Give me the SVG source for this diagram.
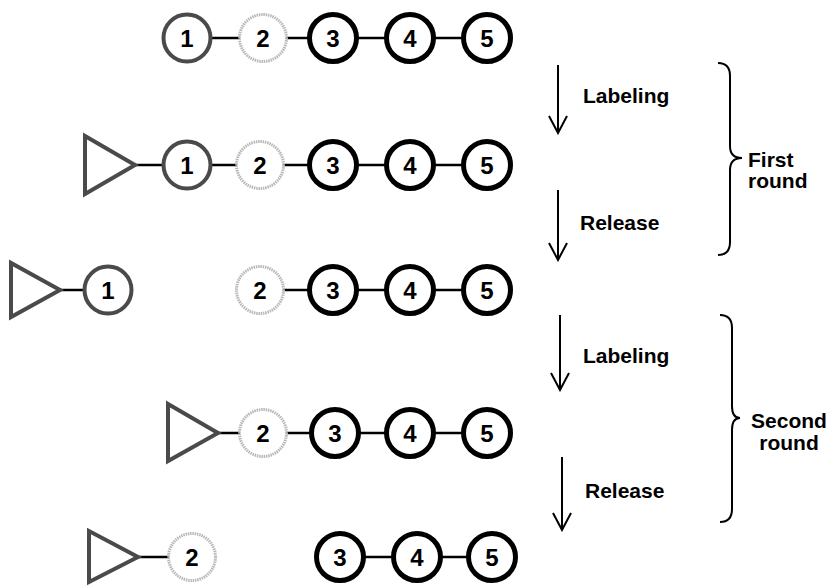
<svg xmlns="http://www.w3.org/2000/svg" width="833" height="586" viewBox="0 0 833 586">
<style>
  .bg{fill:#fff}
  .c1{fill:#fff;stroke:#4a4a4a;stroke-width:4}
  .c2{fill:#fff;stroke:#b8b8b8;stroke-width:3;stroke-dasharray:1.5 0.8}
  .c3{fill:#fff;stroke:#000;stroke-width:5}
  .tri{fill:none;stroke:#4a4a4a;stroke-width:4;stroke-linejoin:miter}
  .num{font-family:"Liberation Sans",Arial,sans-serif;font-weight:bold;font-size:24px;text-anchor:middle;fill:#000}
  .lbl{font-family:"Liberation Sans",Arial,sans-serif;font-weight:bold;font-size:21px;fill:#000}
  .lnk{stroke:#000;stroke-width:2.5;fill:none}
  .arr{stroke:#000;stroke-width:2;fill:none}
  .brace{stroke:#000;stroke-width:2;fill:none}
</style>
<defs>
  <marker id="vhead" markerUnits="userSpaceOnUse" markerWidth="20" markerHeight="20" refX="18" refY="10" orient="auto" viewBox="0 0 20 20">
    <polyline points="1,1 18,10 1,19" fill="none" stroke="#000" stroke-width="2"/>
  </marker>
</defs>
<rect class="bg" x="0" y="0" width="833" height="586"/>

<g id="connectors">
  <!-- row 1 -->
  <line class="lnk" x1="211" y1="38" x2="240" y2="38"/>
  <line class="lnk" x1="286" y1="38" x2="310" y2="38"/>
  <line class="lnk" x1="357" y1="38" x2="386" y2="38"/>
  <line class="lnk" x1="434" y1="38" x2="463" y2="38"/>
  <!-- row 2 -->
  <line class="lnk" x1="135" y1="165" x2="164" y2="165"/>
  <line class="lnk" x1="210" y1="165" x2="237" y2="165"/>
  <line class="lnk" x1="283" y1="165" x2="310" y2="165"/>
  <line class="lnk" x1="357" y1="165" x2="386" y2="165"/>
  <line class="lnk" x1="434" y1="165" x2="463" y2="165"/>
  <!-- row 3 -->
  <line class="lnk" x1="60" y1="290" x2="85" y2="290"/>
  <line class="lnk" x1="283" y1="290" x2="310" y2="290"/>
  <line class="lnk" x1="357" y1="290" x2="386" y2="290"/>
  <line class="lnk" x1="434" y1="290" x2="463" y2="290"/>
  <!-- row 4 -->
  <line class="lnk" x1="218" y1="433" x2="240" y2="433"/>
  <line class="lnk" x1="286" y1="433" x2="311" y2="433"/>
  <line class="lnk" x1="359" y1="433" x2="386" y2="433"/>
  <line class="lnk" x1="434" y1="433" x2="463" y2="433"/>
  <!-- row 5 -->
  <line class="lnk" x1="138" y1="557" x2="169" y2="557"/>
  <line class="lnk" x1="364" y1="557" x2="393" y2="557"/>
  <line class="lnk" x1="441" y1="557" x2="468" y2="557"/>
  <!-- process arrows -->
  <line class="arr" x1="558" y1="65" x2="558" y2="133" marker-end="url(#vhead)"/>
  <line class="arr" x1="558" y1="190" x2="558" y2="260" marker-end="url(#vhead)"/>
  <line class="arr" x1="560" y1="315" x2="560" y2="390" marker-end="url(#vhead)"/>
  <line class="arr" x1="562" y1="457" x2="562" y2="530" marker-end="url(#vhead)"/>
  <!-- braces -->
  <path class="brace" d="M718,63 Q730,63 730,76 L730,146 Q730,158 742,158 Q730,158 730,170 L730,242 Q730,255 718,255"/>
  <path class="brace" d="M720,315 Q732,315 732,328 L732,406 Q732,418 740,418 Q732,418 732,430 L732,509 Q732,522 720,522"/>
</g>

<!-- Row 1 -->
<g id="r1-n1"><circle class="c1" cx="187" cy="38" r="23.5"/><text class="num" x="187" y="47">1</text></g>
<g id="r1-n2"><circle class="c2" cx="263" cy="38" r="23.5"/><text class="num" x="263" y="47">2</text></g>
<g id="r1-n3"><circle class="c3" cx="333" cy="38" r="23.5"/><text class="num" x="333" y="47">3</text></g>
<g id="r1-n4"><circle class="c3" cx="410" cy="38" r="23.5"/><text class="num" x="410" y="47">4</text></g>
<g id="r1-n5"><circle class="c3" cx="487" cy="38" r="23.5"/><text class="num" x="487" y="47">5</text></g>

<!-- Row 2 -->
<g id="r2-tri"><polygon class="tri" points="85,136 85,194 135,165"/></g>
<g id="r2-n1"><circle class="c1" cx="187" cy="165" r="23.5"/><text class="num" x="187" y="174">1</text></g>
<g id="r2-n2"><circle class="c2" cx="260" cy="165" r="23.5"/><text class="num" x="260" y="174">2</text></g>
<g id="r2-n3"><circle class="c3" cx="333" cy="165" r="23.5"/><text class="num" x="333" y="174">3</text></g>
<g id="r2-n4"><circle class="c3" cx="410" cy="165" r="23.5"/><text class="num" x="410" y="174">4</text></g>
<g id="r2-n5"><circle class="c3" cx="487" cy="165" r="23.5"/><text class="num" x="487" y="174">5</text></g>

<!-- Row 3 -->
<g id="r3-tri"><polygon class="tri" points="11,263 11,317 60,290"/></g>
<g id="r3-n1"><circle class="c1" cx="108" cy="290" r="23.5"/><text class="num" x="108" y="299">1</text></g>
<g id="r3-n2"><circle class="c2" cx="260" cy="290" r="23.5"/><text class="num" x="260" y="299">2</text></g>
<g id="r3-n3"><circle class="c3" cx="333" cy="290" r="23.5"/><text class="num" x="333" y="299">3</text></g>
<g id="r3-n4"><circle class="c3" cx="410" cy="290" r="23.5"/><text class="num" x="410" y="299">4</text></g>
<g id="r3-n5"><circle class="c3" cx="487" cy="290" r="23.5"/><text class="num" x="487" y="299">5</text></g>

<!-- Row 4 -->
<g id="r4-tri"><polygon class="tri" points="168,404 168,461 218,433"/></g>
<g id="r4-n2"><circle class="c2" cx="263" cy="433" r="23.5"/><text class="num" x="263" y="442">2</text></g>
<g id="r4-n3"><circle class="c3" cx="335" cy="433" r="23.5"/><text class="num" x="335" y="442">3</text></g>
<g id="r4-n4"><circle class="c3" cx="410" cy="433" r="23.5"/><text class="num" x="410" y="442">4</text></g>
<g id="r4-n5"><circle class="c3" cx="487" cy="433" r="23.5"/><text class="num" x="487" y="442">5</text></g>

<!-- Row 5 -->
<g id="r5-tri"><polygon class="tri" points="89,531 89,582 138,557"/></g>
<g id="r5-n2"><circle class="c2" cx="192" cy="557" r="23.5"/><text class="num" x="192" y="566">2</text></g>
<g id="r5-n3"><circle class="c3" cx="340" cy="557" r="23.5"/><text class="num" x="340" y="566">3</text></g>
<g id="r5-n4"><circle class="c3" cx="417" cy="557" r="23.5"/><text class="num" x="417" y="566">4</text></g>
<g id="r5-n5"><circle class="c3" cx="492" cy="557" r="23.5"/><text class="num" x="492" y="566">5</text></g>

<!-- Labels -->
<g id="labels">
  <text class="lbl" x="583" y="103">Labeling</text>
  <text class="lbl" x="580" y="230">Release</text>
  <text class="lbl" x="583" y="363">Labeling</text>
  <text class="lbl" x="585" y="498">Release</text>
  <text class="lbl" x="748" y="167">First</text>
  <text class="lbl" x="748" y="188">round</text>
  <text class="lbl" x="789" y="428" text-anchor="middle">Second</text>
  <text class="lbl" x="789" y="450" text-anchor="middle">round</text>
</g>
</svg>
